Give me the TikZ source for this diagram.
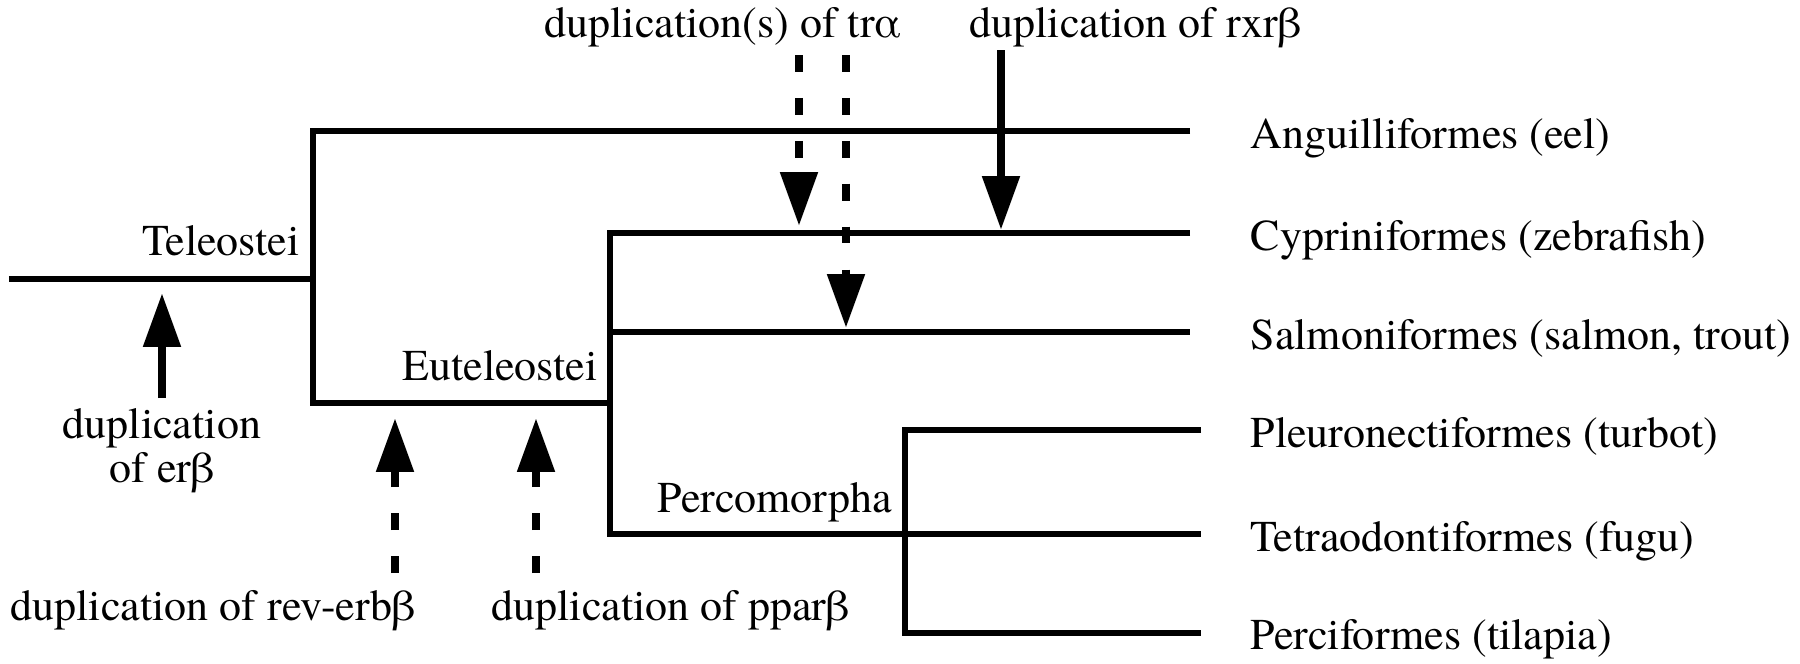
\documentclass[tikz,border=0pt]{standalone}
\usepackage{fontspec}
\IfFontExistsTF{texgyretermes-regular.otf}
  {\setmainfont{texgyretermes}[Extension=.otf, UprightFont=*-regular]}
  {\setmainfont{Liberation Serif}}
\usetikzlibrary{arrows.meta}

\begin{document}
\begin{tikzpicture}[x=0.2727pt, y=-0.2727pt,
    font=\fontsize{12}{12}\selectfont,
    branch/.style={line width=1.5pt, line join=miter},
    dupl/.style={line width=2.3pt, -{Triangle[length=14.7pt,width=9.8pt]}},
    dupldash/.style={dupl, dash pattern=on 4.6pt off 7.1pt},
    taxon/.style={anchor=base west, inner sep=0pt},
    clade/.style={anchor=base east, inner sep=0pt},
    note/.style={anchor=base west, inner sep=0pt}]
    \useasboundingbox (0,0) rectangle (1800,663);

    % Titik percabangan pohon
    \coordinate (root) at (9,279);
    \coordinate (tel) at (313,279);
    \coordinate (telT) at (313,131);
    \coordinate (telB) at (313,403);
    \coordinate (eut) at (610,403);
    \coordinate (eutT) at (610,233);
    \coordinate (eutS) at (610,332);
    \coordinate (eutB) at (610,534);
    \coordinate (perT) at (905,430);
    \coordinate (perB) at (905,633);

    % Ujung cabang
    \coordinate (angE) at (1190,131);
    \coordinate (cypE) at (1190,233);
    \coordinate (salE) at (1190,332);
    \coordinate (pleE) at (1201,430);
    \coordinate (tetE) at (1201,534);
    \coordinate (pciE) at (1201,633);

    % Cabang pohon
    \draw[branch] (root) -- (tel);
    \draw[branch] (angE) -- (telT) -- (telB) -- (eut);
    \draw[branch] (cypE) -- (eutT) -- (eutB) -- (tetE);
    \draw[branch] (eutS) -- (salE);
    \draw[branch] (pleE) -- (perT) -- (perB) -- (pciE);

    % Nama takson
    \node[taxon] (ang) at (1250,148) {Anguilliformes (eel)};
    \node[taxon] (cyp) at (1250,250) {Cypriniformes (zebrafish)};
    \node[taxon] (sal) at (1250,349) {Salmoniformes (salmon, trout)};
    \node[taxon] (ple) at (1250,447) {Pleuronectiformes (turbot)};
    \node[taxon] (tet) at (1250,551) {Tetraodontiformes (fugu)};
    \node[taxon] (pci) at (1250,649) {Perciformes (tilapia)};

    % Nama klad
    \node[clade] (teleo) at (300,255) {Teleostei};
    \node[clade] (euteleo) at (598,380) {Euteleostei};
    \node[clade] (percomo) at (893,512) {Percomorpha};

    % Titik panah duplikasi
    \coordinate (tra1) at (799,55);
    \coordinate (tra1tip) at (799,226);
    \coordinate (tra2) at (846,55);
    \coordinate (tra2tip) at (846,328);
    \coordinate (rxr) at (1001,50);
    \coordinate (rxrtip) at (1001,230);
    \coordinate (erb) at (162,398);
    \coordinate (erbtip) at (162,293);
    \coordinate (rev) at (395,573);
    \coordinate (revtip) at (395,418);
    \coordinate (ppar) at (536,573);
    \coordinate (ppartip) at (536,418);

    % Panah duplikasi
    \draw[dupldash] (tra1) -- (tra1tip);
    \draw[dupldash] (tra2) -- (tra2tip);
    \draw[dupl] (rxr) -- (rxrtip);
    \draw[dupl] (erb) -- (erbtip);
    \draw[dupldash] (rev) -- (revtip);
    \draw[dupldash] (ppar) -- (ppartip);

    % Keterangan duplikasi
    \node[note] (tratxt) at (544,37) {duplication(s) of trα};
    \node[note] (rxrtxt) at (969,37) {duplication of rxrβ};
    \node[note] (revtxt) at (10,620) {duplication of rev-erbβ};
    \node[note] (ppartxt) at (491,620) {duplication of pparβ};
    \node[align=center, anchor=north, inner sep=0pt] (erbtxt) at (162,408) {duplication\\of erβ};
\end{tikzpicture}
\end{document}
